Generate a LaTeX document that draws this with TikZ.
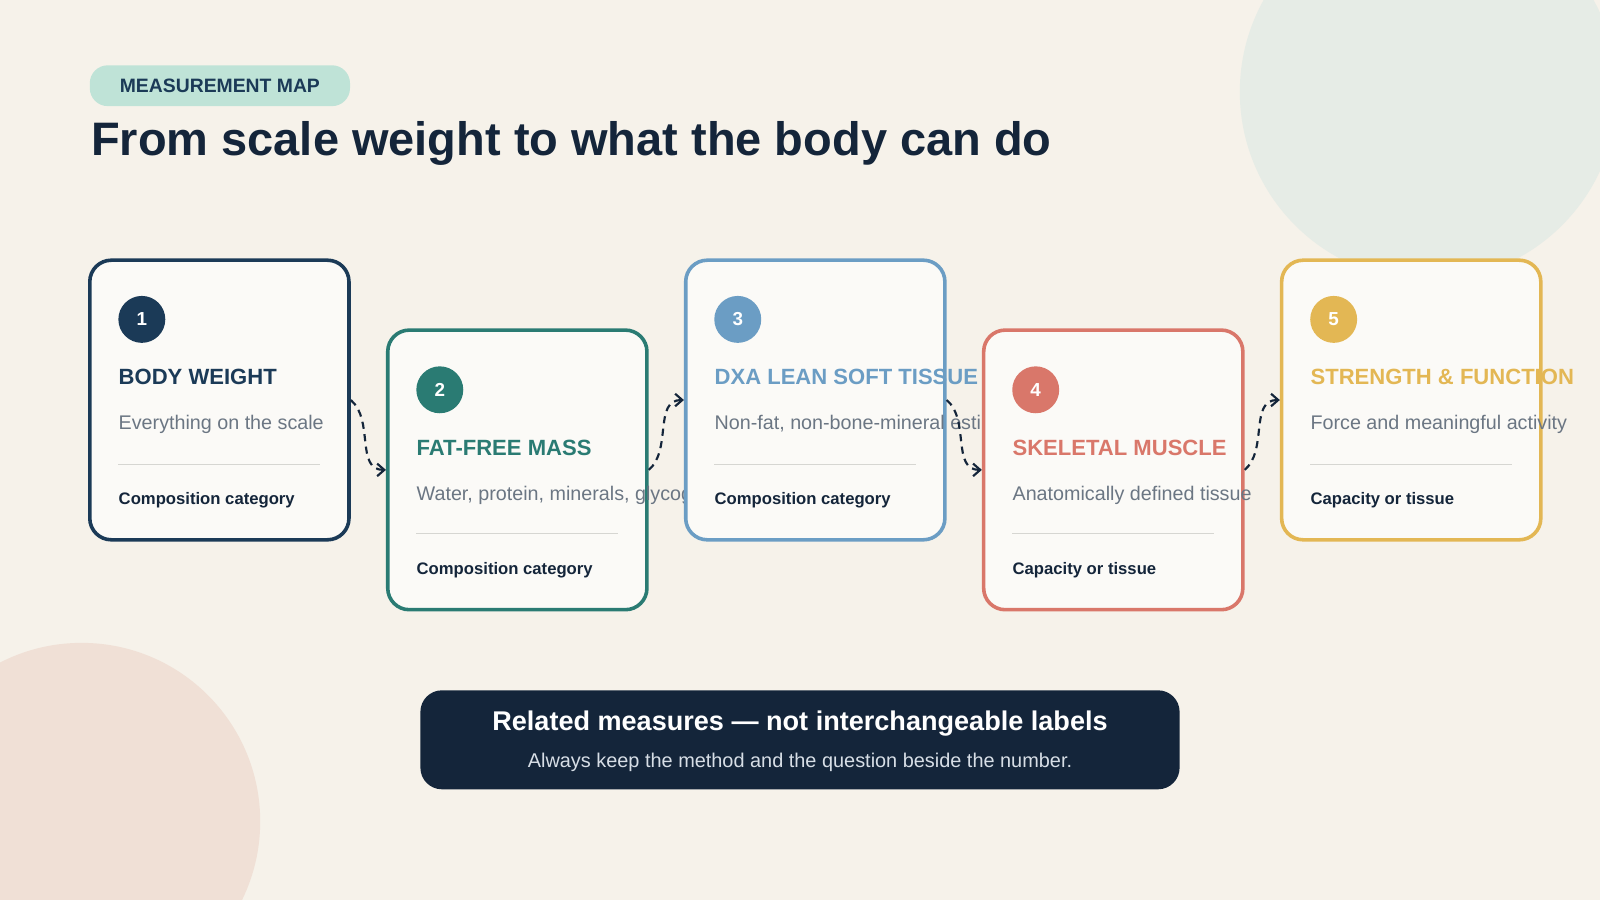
\documentclass[tikz,border=0pt]{standalone}
\usepackage{fontspec}
\setmainfont{Liberation Sans}
\usetikzlibrary{arrows.meta}
\definecolor{bg}{HTML}{F6F2EA}
\definecolor{ink}{HTML}{14253A}
\definecolor{cnavy}{HTML}{1B3A57}
\definecolor{cteal}{HTML}{2A7B73}
\definecolor{cblue}{HTML}{6B9DC4}
\definecolor{ccoral}{HTML}{D9776A}
\definecolor{cgold}{HTML}{E3B754}
\definecolor{gtext}{HTML}{6B7683}
\definecolor{rulec}{HTML}{D6D6D2}
\definecolor{blobg}{HTML}{E6ECE6}
\definecolor{blobp}{HTML}{F0E0D6}
\definecolor{badgec}{HTML}{BFE3D7}
\definecolor{barsub}{HTML}{D7DEE6}
\begin{document}
\begin{tikzpicture}[x=0.02cm,y=-0.02cm,
  card/.style={draw=#1,line width=2pt,rounded corners=12pt,fill=white!60!bg,minimum width=254*0.02cm,minimum height=274*0.02cm,inner sep=0},
  num/.style={circle,fill=#1,text=white,minimum size=46*0.02cm,inner sep=0,font=\bfseries\fontsize{10.5}{12}\selectfont},
  ttl/.style={anchor=base west,inner sep=0,text=#1,font=\bfseries\fontsize{12.3}{14}\selectfont},
  sub/.style={anchor=base west,inner sep=0,text=gtext,font=\fontsize{11}{13}\selectfont},
  foot/.style={anchor=base west,inner sep=0,text=ink,font=\bfseries\fontsize{9.3}{11}\selectfont},
  rl/.style={draw=rulec,line width=0.8pt},
  conn/.style={draw=ink,line width=1.2pt,dash pattern=on 4pt off 3pt,-{Straight Barb[length=4pt,width=7pt]}}]
\useasboundingbox (0,0) rectangle (1568,882);
\fill[bg] (0,0) rectangle (1568,882);
\begin{scope}
\clip (0,0) rectangle (1568,882);
\fill[blobg] (1400,90) circle (185);
\fill[blobp] (80,805) circle (175);
\end{scope}
\node[fill=badgec,rounded corners=10pt,minimum width=255*0.02cm,minimum height=40*0.02cm,text=cnavy,font=\bfseries\fontsize{10.8}{12}\selectfont] (badge) at (215.5,84) {MEASUREMENT MAP};
\node[anchor=base west,inner sep=0,text=ink,font=\bfseries\fontsize{26.2}{30}\selectfont] (head) at (89,152) {From scale weight to what the body can do};
% card 1
\node[card=cnavy] (b1) at (215,392) {};
\node[num=cnavy] (n1) at (139,313) {1};
\node[ttl=cnavy] (t1) at (116,377) {BODY WEIGHT};
\node[sub] (s1) at (116,421) {Everything on the scale};
\draw[rl] (116,455) -- (314,455);
\node[foot] (f1) at (116,494) {Composition category};
% card 2
\node[card=cteal] (b2) at (507,460.5) {};
\node[num=cteal] (n2) at (431,382) {2};
\node[ttl=cteal] (t2) at (408,446) {FAT-FREE MASS};
\node[sub] (s2) at (408,490) {Water, protein, minerals, glycogen};
\draw[rl] (408,523) -- (606,523);
\node[foot] (f2) at (408,563) {Composition category};
% card 3
\node[card=cblue] (b3) at (799,392) {};
\node[num=cblue] (n3) at (723,313) {3};
\node[ttl=cblue] (t3) at (700,377) {DXA LEAN SOFT TISSUE};
\node[sub] (s3) at (700,421) {Non-fat, non-bone-mineral estimate};
\draw[rl] (700,455) -- (898,455);
\node[foot] (f3) at (700,494) {Composition category};
% card 4
\node[card=ccoral] (b4) at (1091,460.5) {};
\node[num=ccoral] (n4) at (1015,382) {4};
\node[ttl=ccoral] (t4) at (992,446) {SKELETAL MUSCLE};
\node[sub] (s4) at (992,490) {Anatomically defined tissue};
\draw[rl] (992,523) -- (1190,523);
\node[foot] (f4) at (992,563) {Capacity or tissue};
% card 5
\node[card=cgold] (b5) at (1383,392) {};
\node[num=cgold] (n5) at (1307,313) {5};
\node[ttl=cgold] (t5) at (1284,377) {STRENGTH \& FUNCTION};
\node[sub] (s5) at (1284,421) {Force and meaningful activity};
\draw[rl] (1284,455) -- (1482,455);
\node[foot] (f5) at (1284,494) {Capacity or tissue};
% connectors
\draw[conn] (b1.east) to[out=-40,in=180] (b2.west);
\draw[conn] (b2.east) to[out=40,in=180] (b3.west);
\draw[conn] (b3.east) to[out=-40,in=180] (b4.west);
\draw[conn] (b4.east) to[out=40,in=180] (b5.west);
% bottom bar
\node[fill=ink,rounded corners=12pt,minimum width=744*0.02cm,minimum height=97*0.02cm] (bar) at (784,725) {};
\node[text=white,font=\bfseries\fontsize{15.1}{17}\selectfont] (bt) at (784,709) {Related measures — not interchangeable labels};
\node[text=barsub,font=\fontsize{11.1}{13}\selectfont] (bs) at (784,747) {Always keep the method and the question beside the number.};
\end{tikzpicture}
\end{document}
